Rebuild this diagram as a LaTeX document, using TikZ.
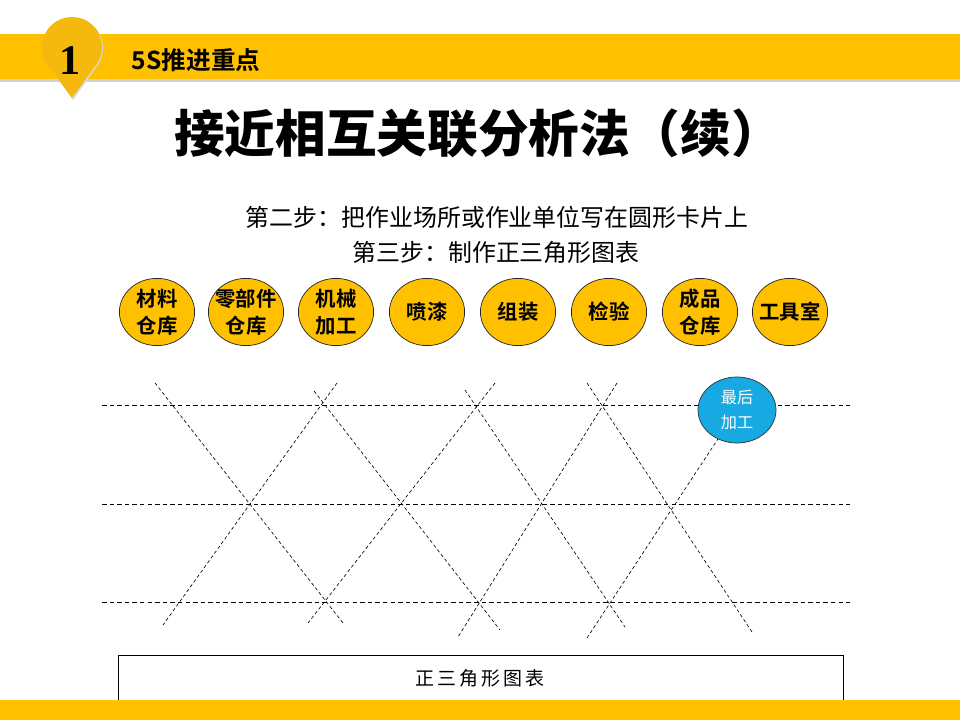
\documentclass[tikz,border=0pt]{standalone}
\usepackage{fontspec}
\newfontfamily\cjk{Noto Sans CJK SC}
\newfontfamily\cjkbold{Noto Sans CJK SC Bold}
\newfontfamily\cjkblack{Noto Sans CJK SC Black}
\newfontfamily\pinfont{Liberation Serif}
\usetikzlibrary{calc,shapes.geometric}
\definecolor{gold}{HTML}{FFC000}
\definecolor{pingold}{HTML}{F5B80C}
\definecolor{skyblue}{HTML}{17A9E1}
\tikzset{
	card/.style={ellipse, draw=black!85, line width=0.5pt, fill=gold, minimum width=1.88cm, minimum height=1.68cm, inner sep=0pt},
	cardtext/.style={align=center, font=\cjkbold\fontsize{14.5}{19}\selectfont, inner sep=0pt},
	rowline/.style={line width=0.6pt, dash pattern=on 3.2pt off 2.2pt},
	slantline/.style={line width=0.45pt, dash pattern=on 2.4pt off 1.8pt}
}

\begin{document}
\begin{tikzpicture}[x=0.025cm, y=-0.025cm]
			%%%%% START %%%%%
			\useasboundingbox (0, 0) rectangle (960, 720);
			
			% header band and pin
			\fill[black!18] (0, 79) rectangle (960, 82);
			\fill[gold] (0, 34) rectangle (960, 79);
			\fill[black!15] (73, 100) -- ($(73, 48)+(36:30)$) arc (36:-216:30) -- cycle;
			\fill[pingold] (72, 98) -- ($(72, 47)+(36:30)$) arc (36:-216:30) -- cycle;
			\node[font=\pinfont\bfseries\fontsize{30}{30}\selectfont] (num) at (70, 61) {1};
			\node[anchor=west, font=\cjkbold\fontsize{17.5}{20}\selectfont] (head) at (127, 60) {5S推进重点};
			
			% title and steps
			\node[font=\cjkblack\fontsize{36}{40}\selectfont] (title) at (478, 133) {接近相互关联分析法（续）};
			\node[font=\cjk\fontsize{17}{20}\selectfont] (step2) at (497, 217) {第二步：把作业场所或作业单位写在圆形卡片上};
			\node[font=\cjk\fontsize{17}{20}\selectfont] (step3) at (496, 252) {第三步：制作正三角形图表};
			
			% cards
			\node[card] (c1) at (157, 312) {};
			\node[cardtext] (t1) at (c1) {材料\\仓库};
			\node[card] (c2) at (246, 312) {};
			\node[cardtext] (t2) at (c2) {零部件\\仓库};
			\node[card] (c3) at (336, 312) {};
			\node[cardtext] (t3) at (c3) {机械\\加工};
			\node[card] (c4) at (427, 312) {};
			\node[cardtext] (t4) at (c4) {喷漆};
			\node[card] (c5) at (518, 312) {};
			\node[cardtext] (t5) at (c5) {组装};
			\node[card] (c6) at (609, 312) {};
			\node[cardtext] (t6) at (c6) {检验};
			\node[card] (c7) at (700, 312) {};
			\node[cardtext] (t7) at (c7) {成品\\仓库};
			\node[card] (c8) at (790, 312) {};
			\node[cardtext] (t8) at (c8) {工具室};
			
			% triangle chart
			\draw[rowline] (102, 405) -- (850, 405);
			\draw[rowline] (102, 504) -- (850, 504);
			\draw[rowline] (102, 602) -- (850, 602);
			
			\draw[slantline] (155, 383) -- (343, 623);
			\draw[slantline] (314, 391) -- (500, 630);
			\draw[slantline] (465, 390) -- (625, 627);
			\draw[slantline] (587, 383) -- (752, 632);
			
			\draw[slantline] (337, 383) -- (163, 625);
			\draw[slantline] (495, 383) -- (308, 623);
			\draw[slantline] (617, 383) -- (458, 637);
			
			\node[ellipse, draw=black!80, line width=0.5pt, fill=skyblue, minimum width=1.95cm, minimum height=1.65cm, inner sep=0pt] (last) at (737, 410) {};
			\node[align=center, text=white, font=\cjk\fontsize{11.5}{17.5}\selectfont, inner sep=0pt] (lasttext) at (last) {最后\\加工};
			\draw[slantline] (587, 638) -- (last);
			
			% caption box and footer band
			\draw[line width=0.7pt] (118, 655) rectangle (843, 700);
			\node[font=\cjk\fontsize{13.5}{16}\selectfont] (caption) at (480, 678) {正\,三\,角\,形\,图\,表};
			\fill[gold] (0, 700) rectangle (960, 720);
			
			%%%%% END %%%%%
		\end{tikzpicture}
\end{document}
